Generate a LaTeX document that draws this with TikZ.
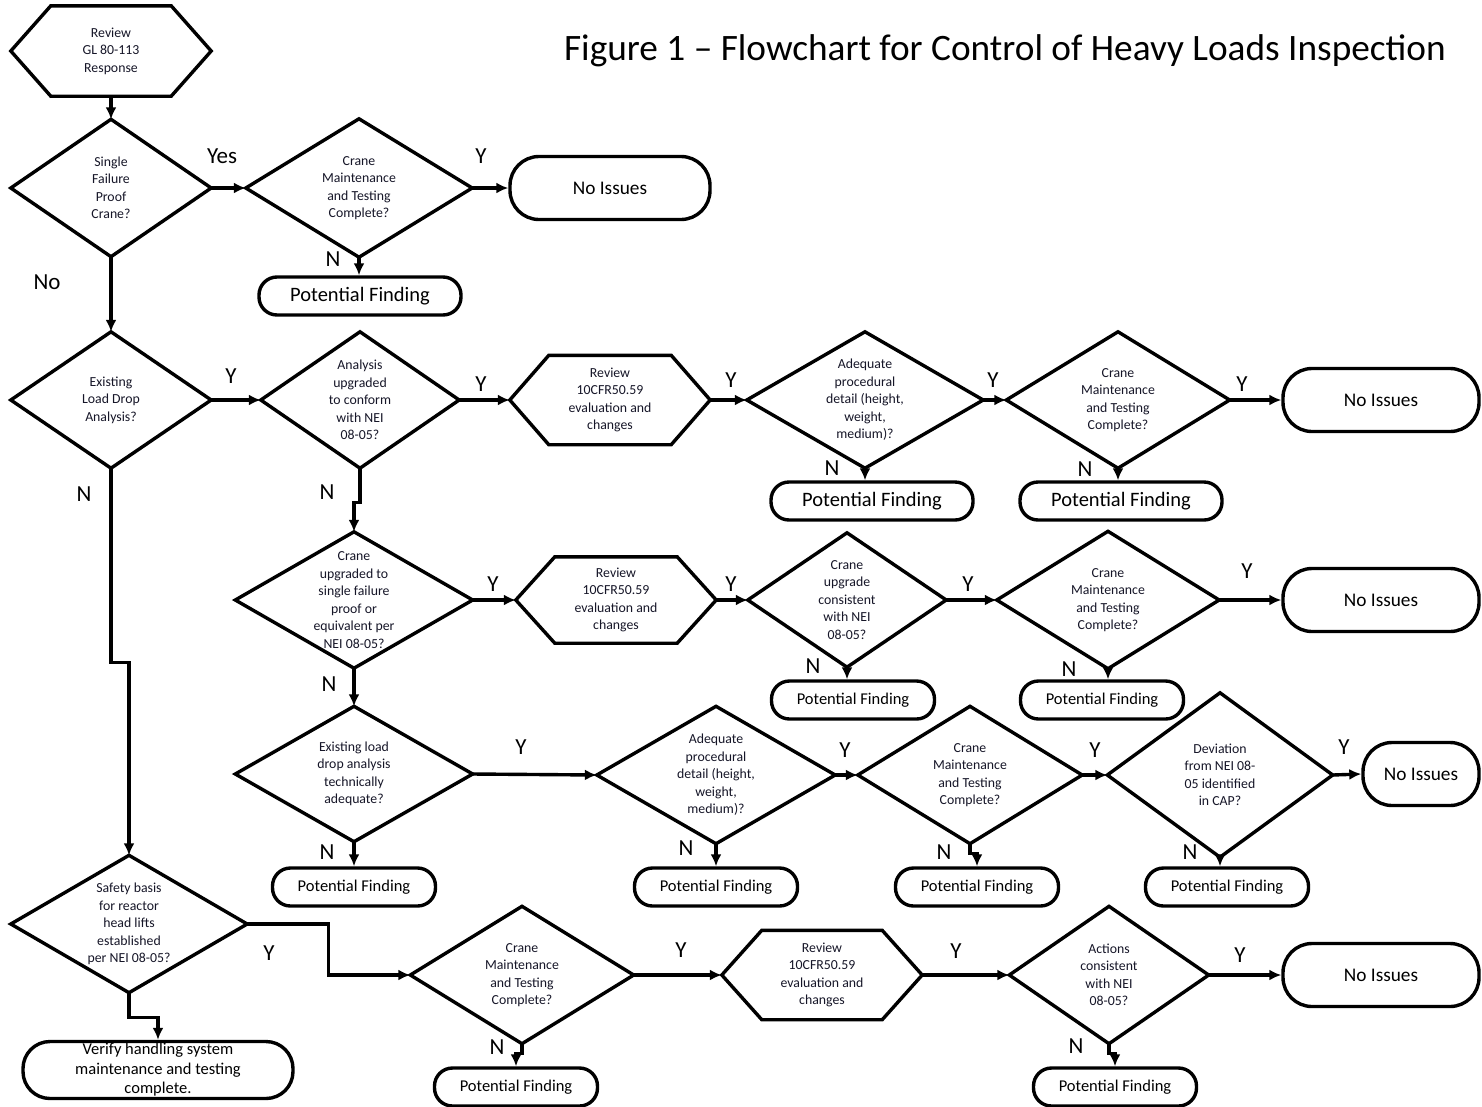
\documentclass[tikz,border=0pt]{standalone}
\usepackage{fontspec}
\setmainfont{Carlito}
\usetikzlibrary{arrows.meta}
\definecolor{txtc}{RGB}{22,22,40}
\tikzset{
  shp/.style={draw=black, line width=3.4pt, line join=miter},
  txt/.style={inner sep=0pt, align=center, text=txtc, font=\fontsize{13.8}{17.5}\selectfont},
  conn/.style={line width=3.4pt, -{Latex[length=12pt,width=11pt]}},
  term/.style={draw=black, line width=3.4pt, inner sep=0pt, align=center, text=black},
  pfbig/.style={term, font=\fontsize{20.5}{24}\selectfont, minimum width=202pt, minimum height=38pt, rounded corners=18pt},
  pfsmall/.style={term, font=\fontsize{16.5}{20}\selectfont, minimum width=163pt, minimum height=38pt, rounded corners=18pt},
  noiss/.style={term, font=\fontsize{19.3}{23}\selectfont, minimum height=63pt, rounded corners=29pt},
  lbl/.style={inner sep=0pt, font=\fontsize{23}{26}\selectfont},
}
\newcommand{\mydia}[6]{%
  \node[txt, minimum width=#4pt, minimum height=#5pt] (#1) at (#2,#3) {#6};
  \draw[shp] (#1.west) -- (#1.north) -- (#1.east) -- (#1.south) -- cycle;}
\newcommand{\myhex}[7]{%
  \node[txt, minimum width=#4pt, minimum height=#5pt] (#1) at (#2,#3) {#7};
  \draw[shp] (#1.west) -- ([xshift=#6pt]#1.north west) -- ([xshift=-#6pt]#1.north east)
    -- (#1.east) -- ([xshift=-#6pt]#1.south east) -- ([xshift=#6pt]#1.south west) -- cycle;}
\newcommand{\mylab}[4]{\node[lbl] (#1) at (#2,#3) {#4};}
\begin{document}
\begin{tikzpicture}[x=1pt,y=-1pt]
\useasboundingbox[fill=white] (0,0) rectangle (1482,1106);

% title
\node[inner sep=0pt, font=\fontsize{37.3}{40}\selectfont] (title) at (1005,51) {Figure 1 -- Flowchart for Control of Heavy Loads Inspection};

% row 1
\myhex{H1}{111}{51}{200}{90}{40}{Review\\GL 80-113\\Response}
\mydia{D1}{111}{188}{200}{137}{Single\\Failure\\Proof\\Crane?}
\mydia{D2}{359}{188}{226}{138}{Crane\\Maintenance\\and Testing\\Complete?}
\node[noiss, minimum width=200pt] (NI1) at (610,188) {No Issues};
\node[pfbig] (PF1) at (360,296) {Potential Finding};

% row 2
\mydia{D3}{111}{400}{200}{136}{Existing\\Load Drop\\Analysis?}
\mydia{D4}{360}{400}{198}{136}{Analysis\\upgraded\\to conform\\with NEI\\08-05?}
\myhex{H2}{610}{400}{200}{89}{39}{Review\\10CFR50.59\\evaluation and\\changes}
\mydia{D7}{865}{400}{236}{136}{Adequate\\procedural\\detail (height,\\weight,\\medium)?}
\mydia{D8}{1118}{400}{223}{136}{Crane\\Maintenance\\and Testing\\Complete?}
\node[noiss, minimum width=196pt] (NI2) at (1381,400) {No Issues};
\node[pfbig] (PF2) at (872,501) {Potential Finding};
\node[pfbig] (PF3) at (1121,501) {Potential Finding};

% row 3
\mydia{D5}{354}{600}{237}{136}{Crane\\upgraded to\\single failure\\proof or\\equivalent per\\NEI 08-05?}
\myhex{H3}{616}{600}{200}{86}{39}{Review\\10CFR50.59\\evaluation and\\changes}
\mydia{D9}{847}{600}{198}{134}{Crane\\upgrade\\consistent\\with NEI\\08-05?}
\mydia{D10}{1108}{600}{222}{137}{Crane\\Maintenance\\and Testing\\Complete?}
\node[noiss, minimum width=196pt] (NI3) at (1381,600) {No Issues};
\node[pfsmall] (PF4) at (853,700) {Potential Finding};
\node[pfsmall] (PF5) at (1102,700) {Potential Finding};

% row 4
\mydia{D11}{354}{774}{237}{135}{Existing load\\drop analysis\\technically\\adequate?}
\mydia{D12}{716}{775}{238}{137}{Adequate\\procedural\\detail (height,\\weight,\\medium)?}
\mydia{D13}{970}{775}{224}{137}{Crane\\Maintenance\\and Testing\\Complete?}
\mydia{D14}{1220}{775}{225}{164}{Deviation\\from NEI 08-\\05 identified\\in CAP?}
\node[noiss, minimum width=116pt] (NI4) at (1421,774) {No Issues};
\node[pfsmall] (PF6) at (354,887) {Potential Finding};
\node[pfsmall] (PF7) at (716,887) {Potential Finding};
\node[pfsmall] (PF8) at (977,887) {Potential Finding};
\node[pfsmall] (PF9) at (1227,887) {Potential Finding};

% row 5
\mydia{D6}{129}{924}{236}{137}{Safety basis\\for reactor\\head lifts\\established\\per NEI 08-05?}
\node[term, font=\fontsize{16.5}{19.5}\selectfont, minimum width=270pt, minimum height=57pt, rounded corners=27pt] (V) at (158,1070) {Verify handling system\\maintenance and testing\\complete.};
\mydia{D15}{522}{975}{223}{137}{Crane\\Maintenance\\and Testing\\Complete?}
\myhex{H4}{822}{975}{200}{89}{40}{Review\\10CFR50.59\\evaluation and\\changes}
\mydia{D16}{1109}{975}{199}{137}{Actions\\consistent\\with NEI\\08-05?}
\node[noiss, minimum width=196pt] (NI5) at (1381,975) {No Issues};
\node[pfsmall] (PF10) at (516,1087) {Potential Finding};
\node[pfsmall] (PF11) at (1115,1087) {Potential Finding};

% connectors
\draw[conn] (H1.south) -- (D1.north);
\draw[conn] (D1.east) -- (D2.west);
\draw[conn] (D2.east) -- (NI1.west);
\draw[conn] (D2.south) -- (D2.south |- PF1.north);
\draw[conn] (D1.south) -- (D3.north);
\draw[conn] (D3.east) -- (D4.west);
\draw[conn] (D4.east) -- (H2.west);
\draw[conn] (H2.east) -- (D7.west);
\draw[conn] (D7.east) -- (D8.west);
\draw[conn] (D8.east) -- (NI2.west);
\draw[conn] (D7.south) -- (D7.south |- PF2.north);
\draw[conn] (D8.south) -- (D8.south |- PF3.north);
\draw[conn] (D4.south) -- ++(0,34) -| (D5.north);
\draw[conn] (D5.east) -- (H3.west);
\draw[conn] (H3.east) -- (D9.west);
\draw[conn] (D9.east) -- (D10.west);
\draw[conn] (D10.east) -- (NI3.west);
\draw[conn] (D9.south) -- (D9.south |- PF4.north);
\draw[conn] (D10.south) -- (D10.south |- PF5.north);
\draw[conn] (D5.south) -- (D11.north);
\draw[conn] (D11.east) -- (D12.west);
\draw[conn] (D12.east) -- (D13.west);
\draw[conn] (D13.east) -- (D14.west);
\draw[conn] (D14.east) -- (NI4.west);
\draw[conn] (D11.south) -- (PF6.north);
\draw[conn] (D12.south) -- (PF7.north);
\draw[conn] (D13.south) -- ++(0,10) -| (PF8.north);
\draw[conn] (D14.south) -- (D14.south |- PF9.north);
\draw[conn] (D3.south) -- ++(0,194) -| (D6.north);
\draw[conn] (D6.east) -- ++(81,0) |- (D15.west);
\draw[conn] (D6.south) -- ++(0,25) -| (V.north);
\draw[conn] (D15.east) -- (H4.west);
\draw[conn] (H4.east) -- (D16.west);
\draw[conn] (D16.east) -- (NI5.west);
\draw[conn] (D15.south) -- ++(0,10) -| (PF10.north);
\draw[conn] (D16.south) -- ++(0,10) -| (PF11.north);

% labels
\mylab{l1}{222}{156}{Yes}
\mylab{l2}{481}{156}{Y}
\mylab{l3}{333}{259}{N}
\mylab{l4}{47}{282}{No}
\mylab{l5}{231}{376}{Y}
\mylab{l6}{481}{384}{Y}
\mylab{l7}{731}{380}{Y}
\mylab{l8}{993}{380}{Y}
\mylab{l9}{1242}{384}{Y}
\mylab{l10}{832}{468}{N}
\mylab{l11}{1085}{469}{N}
\mylab{l12}{84}{494}{N}
\mylab{l13}{327}{492}{N}
\mylab{l14}{493}{584}{Y}
\mylab{l15}{731}{584}{Y}
\mylab{l16}{968}{584}{Y}
\mylab{l17}{1247}{571}{Y}
\mylab{l18}{813}{666}{N}
\mylab{l19}{1069}{669}{N}
\mylab{l20}{329}{684}{N}
\mylab{l21}{521}{747}{Y}
\mylab{l22}{845}{750}{Y}
\mylab{l23}{1095}{750}{Y}
\mylab{l24}{1344}{747}{Y}
\mylab{l25}{327}{852}{N}
\mylab{l26}{686}{848}{N}
\mylab{l27}{944}{852}{N}
\mylab{l28}{1190}{852}{N}
\mylab{l29}{269}{953}{Y}
\mylab{l30}{681}{950}{Y}
\mylab{l31}{956}{951}{Y}
\mylab{l32}{1240}{955}{Y}
\mylab{l33}{497}{1047}{N}
\mylab{l34}{1076}{1046}{N}
\end{tikzpicture}
\end{document}
